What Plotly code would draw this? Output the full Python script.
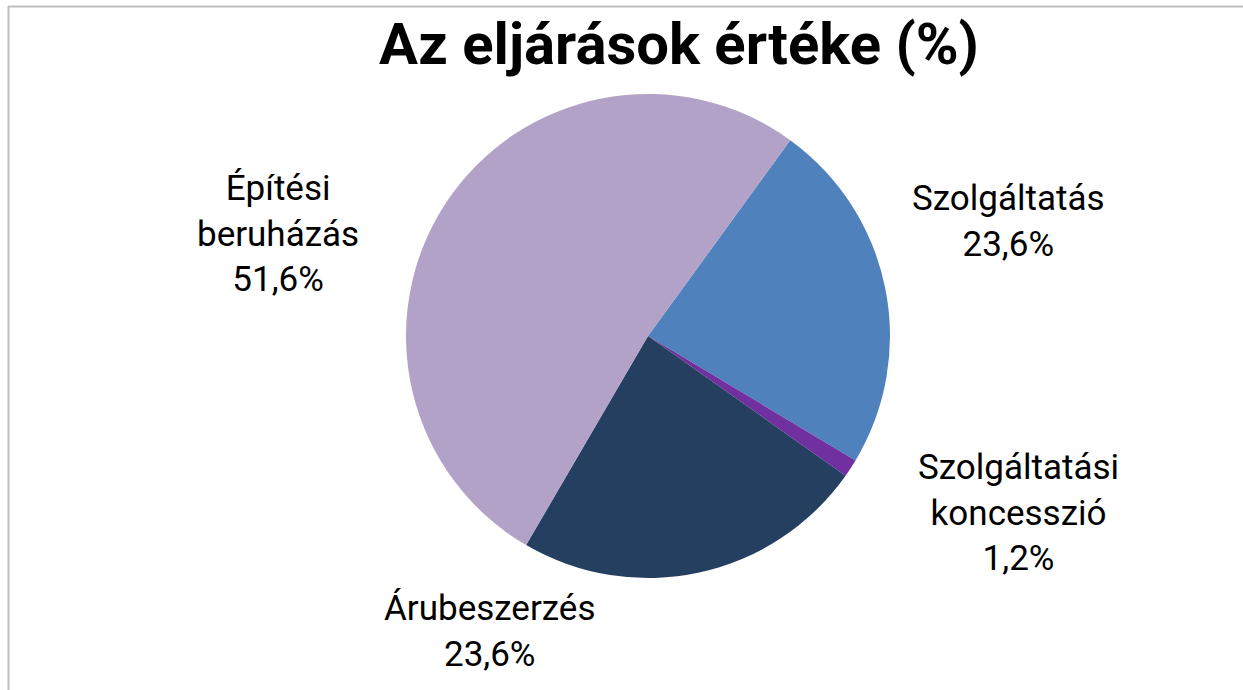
import plotly.graph_objects as go

categories = ["Szolgáltatás", "Szolgáltatási koncesszió", "Árubeszerzés", "Építési beruházás"]
label_lines = ["Szolgáltatás", "Szolgáltatási<br>koncesszió", "Árubeszerzés", "Építési<br>beruházás"]
values = [23.6, 1.2, 23.6, 51.6]
pct_labels = ["23,6%", "1,2%", "23,6%", "51,6%"]
colors = ["#4F81BD", "#7030A0", "#243F60", "#B3A2C7"]

W, H = 1243, 690
cx, cy, r = 648, 336, 242

fig = go.Figure()
fig.add_trace(go.Pie(
    labels=categories,
    values=values,
    sort=False,
    direction="clockwise",
    rotation=36,
    marker=dict(colors=colors, line=dict(width=0)),
    textinfo="none",
    hoverinfo="label+value",
    showlegend=False,
    domain=dict(x=[(cx - r) / W, (cx + r) / W], y=[1 - (cy + r) / H, 1 - (cy - r) / H]),
))

# label positions (pixel centres)
label_pos = [(1008, 222), (1018, 513), (490, 631), (278, 234)]
font = dict(family="Roboto, Inter, sans-serif", size=35, color="#000000")
for (px, py), name, pct in zip(label_pos, label_lines, pct_labels):
    fig.add_annotation(
        x=px / W, y=1 - py / H, xref="paper", yref="paper",
        text=f"{name}<br>{pct}", showarrow=False,
        xanchor="center", yanchor="middle", align="center", font=font,
    )

# border lines (top and left)
fig.add_shape(type="line", xref="paper", yref="paper", x0=8 / W, x1=1, y0=1 - 6.5 / H, y1=1 - 6.5 / H,
              line=dict(color="#BFBFBF", width=2))
fig.add_shape(type="line", xref="paper", yref="paper", x0=8.5 / W, x1=8.5 / W, y0=0, y1=1 - 6 / H,
              line=dict(color="#BFBFBF", width=2))

fig.update_layout(
    width=W, height=H,
    margin=dict(l=0, r=0, t=0, b=0),
    paper_bgcolor="white", plot_bgcolor="white",
    title=dict(text="<b>Az eljárások értéke (%)</b>", x=679 / W, xanchor="center",
               y=1 - 44 / H, yanchor="middle",
               font=dict(family="Roboto, Inter, sans-serif", size=58, color="#000000")),
)

fig.write_html("out.html", post_script="document.body.style.margin='0';",
               config={"displayModeBar": False})
